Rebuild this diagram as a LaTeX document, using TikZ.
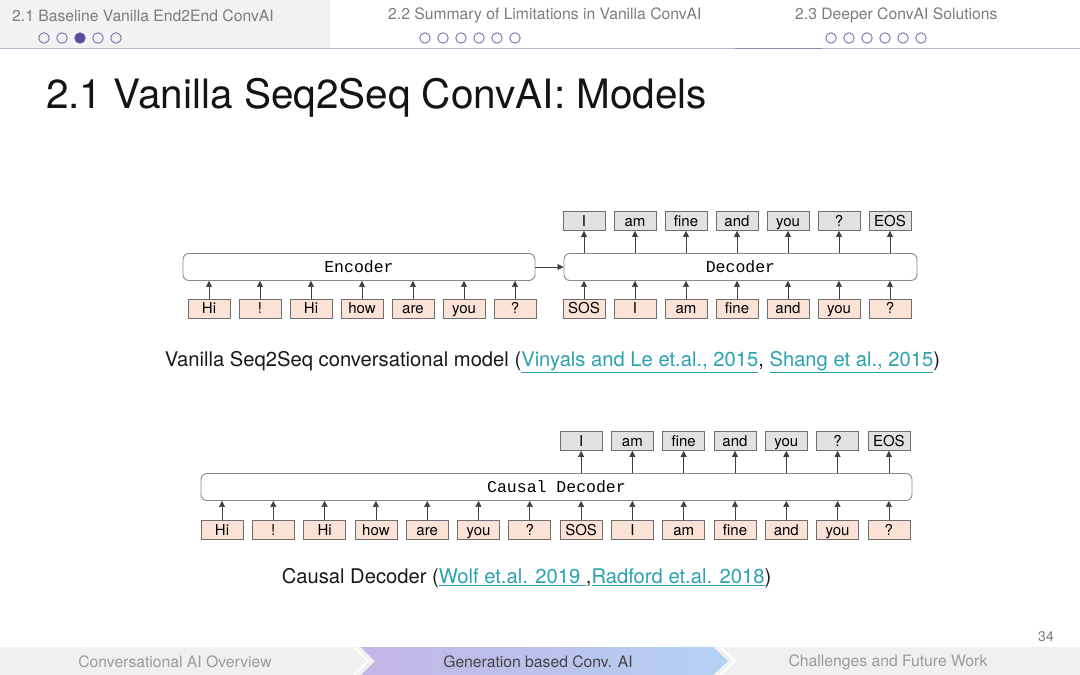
\documentclass[tikz,border=0pt]{standalone}
\usepackage{fontspec}
\setmainfont{TeX Gyre Heros}
\newfontfamily\monofont{Liberation Mono}
\usetikzlibrary{arrows.meta}
\definecolor{hdrgray}{HTML}{7C7C7C}
\definecolor{hdrband}{HTML}{F2F2F2}
\definecolor{hdrline}{HTML}{B9B5CC}
\definecolor{hdrdark}{HTML}{8E89AE}
\definecolor{dotc}{HTML}{7B70B2}
\definecolor{dotfill}{HTML}{5B4C9C}
\definecolor{pinkfill}{HTML}{FAE3D6}
\definecolor{grayfill}{HTML}{E2E2E2}
\definecolor{tokline}{HTML}{6E6E6E}
\definecolor{boxline}{HTML}{8A8A8A}
\definecolor{linkc}{HTML}{2AA2B0}
\definecolor{footband}{HTML}{F0F0F0}
\definecolor{footL}{HTML}{C3B5E6}
\definecolor{footR}{HTML}{B3D1F2}
\definecolor{foottxt}{HTML}{9A9A9A}
\definecolor{footact}{HTML}{444444}
\newcommand{\lnk}[1]{\textcolor{linkc}{\underline{#1}}}
\begin{document}
\begin{tikzpicture}[x=1pt,y=-1pt,
  hdr/.style={text=hdrgray, font=\fontsize{15.7}{18}\selectfont, inner sep=0pt},
  hdot/.style={circle, draw=dotc, line width=0.9pt, minimum size=10.5pt, inner sep=0pt},
  token/.style={draw=tokline, line width=0.8pt, minimum width=42pt, minimum height=19pt, inner sep=0pt, text height=12pt, text depth=2pt, font=\fontsize{15}{17}\selectfont},
  tokin/.style={token, fill=pinkfill},
  tokout/.style={token, fill=grayfill},
  block/.style={draw=boxline, rounded corners=6pt, line width=0.9pt, minimum height=27pt, inner sep=0pt, font=\monofont\fontsize{16.5}{18}\selectfont},
  arr/.style={-{Triangle[length=6pt,width=6pt]}, line width=0.7pt, draw=black!75},
  captxt/.style={inner sep=0pt, text=black!90, font=\fontsize{20.2}{23}\selectfont},
  foot/.style={inner sep=0pt, font=\fontsize{15.7}{18}\selectfont}
]
\useasboundingbox (0,0) rectangle (1080,675);
\fill[white] (0,0) rectangle (1080,675);

% ---------- header ----------
\fill[hdrband] (0,0) rectangle (330,48);
\draw[hdrline, line width=1.5pt] (0,48.5) -- (1080,48.5);
\draw[hdrdark, line width=1.5pt] (735,48.5) -- (822,48.5);
\node[hdr, anchor=west] (h1) at (12,15.5) {2.1 Baseline Vanilla End2End ConvAI};
\node[hdr, anchor=west] (h2) at (388,15.5) {2.2 Summary of Limitations in Vanilla ConvAI};
\node[hdr, anchor=west] (h3) at (795,15.5) {2.3 Deeper ConvAI Solutions};
\foreach \i/\x in {1/44,2/62,3/80,4/98,5/116}{
  \node[hdot] (da\i) at (\x,38) {};
}
\fill[dotfill] (da3) circle (5.2pt);
\foreach \i/\x in {1/425,2/443,3/461,4/479,5/497,6/515}{
  \node[hdot] (db\i) at (\x,38) {};
}
\foreach \i/\x in {1/831,2/849,3/867,4/885,5/903,6/921}{
  \node[hdot] (dc\i) at (\x,38) {};
}

% ---------- title ----------
\node[inner sep=0pt, anchor=base west, text=black!92, font=\fontsize{40.5}{46}\selectfont] (title) at (46,108) {2.1 Vanilla Seq2Seq ConvAI: Models};

% ---------- diagram 1 ----------
\node[block, minimum width=352pt] (enc) at (359,267) {Encoder};
\node[block, minimum width=353pt] (dec) at (740.5,267) {Decoder};
\draw[arr] (enc.east) -- (dec.west);
\foreach \t [count=\k from 0] in {Hi,!,Hi,how,are,you,?}{
  \node[tokin] (ei\k) at (209+51*\k,308.5) {\t};
  \draw[arr] (ei\k.north) -- (ei\k.north |- enc.south);
}
\foreach \t [count=\k from 0] in {SOS,I,am,fine,and,you,?}{
  \node[tokin] (di\k) at (584+51*\k,308.5) {\t};
  \draw[arr] (di\k.north) -- (di\k.north |- dec.south);
}
\foreach \t [count=\k from 0] in {I,am,fine,and,you,?,EOS}{
  \node[tokout] (do\k) at (584+51*\k,221) {\t};
  \draw[arr] (do\k.south |- dec.north) -- (do\k.south);
}
\node[captxt] (cap1) at (552.5,362) {Vanilla Seq2Seq conversational model (\lnk{Vinyals and Le et.al., 2015}, \lnk{Shang et al., 2015})};

% ---------- diagram 2 ----------
\node[block, minimum width=711pt] (cd) at (556.5,487) {Causal Decoder};
\foreach \t [count=\k from 0] in {Hi,!,Hi,how,are,you,?,SOS,I,am,fine,and,you,?}{
  \node[tokin] (ci\k) at (222+51.3*\k,530) {\t};
  \draw[arr] (ci\k.north) -- (ci\k.north |- cd.south);
}
\foreach \t [count=\k from 7] in {I,am,fine,and,you,?,EOS}{
  \node[tokout] (co\k) at (222+51.3*\k,441) {\t};
  \draw[arr] (co\k.south |- cd.north) -- (co\k.south);
}
\node[captxt] (cap2) at (526.5,578) {Causal Decoder (\lnk{Wolf et.al. 2019 },\lnk{Radford et.al. 2018})};

% ---------- footer ----------
\node[inner sep=0pt, text=hdrgray, font=\fontsize{14}{16}\selectfont] (pg) at (1046,637) {34};
\fill[footband] (0,647) rectangle (1080,675);
\shade[left color=footL, right color=footR] (361,647) -- (713,647) -- (728,661) -- (713,675) -- (361,675) -- (375,661) -- cycle;
\draw[white, line width=2pt, line join=miter] (354,647) -- (368,661) -- (354,675);
\draw[white, line width=2pt, line join=miter] (720,647) -- (735,661) -- (720,675);
\node[foot, text=foottxt] (f1) at (175,662) {Conversational AI Overview};
\node[foot, text=footact] (f2) at (538,662) {Generation based Conv. AI};
\node[foot, text=foottxt] (f3) at (888,662) {Challenges and Future Work};
\end{tikzpicture}
\end{document}
